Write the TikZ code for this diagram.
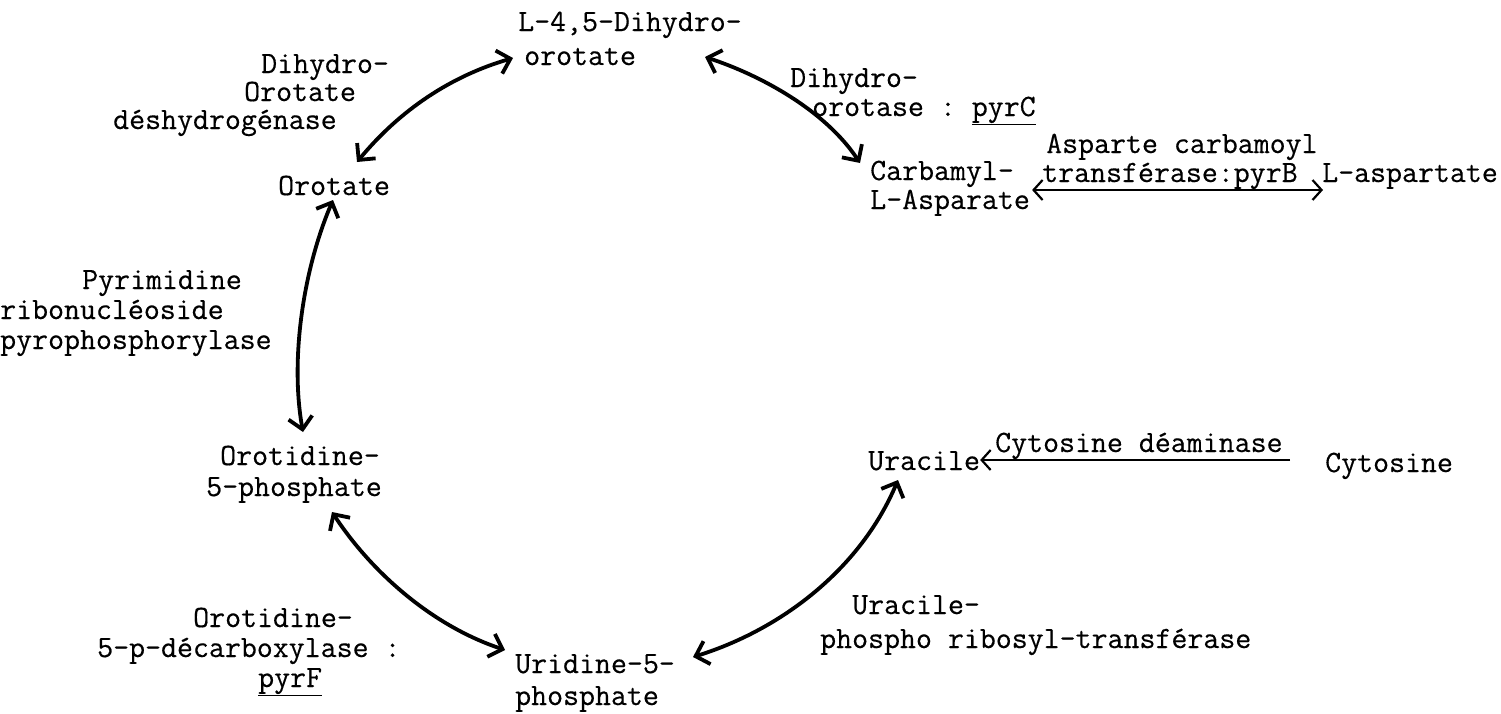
\documentclass[tikz,border=0pt]{standalone}
\usepackage{fontspec}
\setmonofont{Latin Modern Mono}[FakeBold=0.4]
\usetikzlibrary{arrows.meta}
\tikzset{
  ctip/.tip={Straight Barb[length=12pt,width=24pt]},
  rtip/.tip={Straight Barb[length=9pt,width=20pt]}
}
\begin{document}
\begin{tikzpicture}[x=1pt,y=-1pt,
  lbl/.style={anchor=base west, inner sep=0pt,
    font=\ttfamily\fontsize{31}{36}\selectfont},
  cyc/.style={line width=3.8pt, line cap=round, ctip-ctip},
  rxn/.style={line width=2.2pt}]
\fill[white] (0,0) rectangle (1501,713);
\useasboundingbox (0,0) rectangle (1501,713);

% metabolites and enzymes
\node[lbl] (dho1) at (518,31) {L-4,5-Dihydro-};
\node[lbl] (dho2) at (524,65) {orotate};
\node[lbl] (ldh1) at (261,73) {Dihydro-};
\node[lbl] (ldh2) at (244,101) {Orotate};
\node[lbl] (ldh3) at (113,129) {déshydrogénase};
\node[lbl] (oro) at (278,195) {Orotate};
\node[lbl] (rdh1) at (790,87) {Dihydro-};
\node[lbl] (rdh2) at (812,116) {orotase : \underline{pyrC}};
\node[lbl] (ca1) at (870,180) {Carbamyl-};
\node[lbl] (ca2) at (870,209) {L-Asparate};
\node[lbl] (atc1) at (1046,153) {Asparte carbamoyl};
\node[lbl] (atc2) at (1042,182) {transférase:pyrB};
\node[lbl] (asp) at (1322,182) {L-aspartate};
\node[lbl] (pr1) at (82,289) {Pyrimidine};
\node[lbl] (pr2) at (0,319) {ribonucléoside};
\node[lbl] (pr3) at (0,349) {pyrophosphorylase};
\node[lbl] (od1) at (220,465) {Orotidine-};
\node[lbl] (od2) at (206,496) {5-phosphate};
\node[lbl] (ura) at (868,470) {Uracile};
\node[lbl] (cda) at (995,452) {Cytosine déaminase};
\node[lbl] (cyt) at (1325,472) {Cytosine};
\node[lbl] (up1) at (852,614) {Uracile-};
\node[lbl] (up2) at (820,648) {phospho ribosyl-transférase};
\node[lbl] (odc1) at (193,627) {Orotidine-};
\node[lbl] (odc2) at (97,657) {5-p-décarboxylase :};
\node[lbl] (odc3) at (258,687) {\underline{pyrF}};
\node[lbl] (ud1) at (515,673) {Uridine-5-};
\node[lbl] (ud2) at (515,705) {phosphate};

% reversible steps of the cycle
\draw[cyc] ([shift={(79,-33)}]oro.base west)
  .. controls +(43,-52) and +(-62,18) .. ([shift={(-11,-7)}]dho2.base west);
\draw[cyc] ([shift={(181,-8)}]dho2.base west)
  .. controls +(55,18) and +(-35,-53) .. ([shift={(-10,-17)}]ca1.base west);
\draw[cyc] ([shift={(55,5)}]oro.base west)
  .. controls +(-30,70) and +(-13,-72) .. ([shift={(83,-33)}]od1.base west);
\draw[cyc] ([shift={(126,16)}]od2.base west)
  .. controls +(38,58) and +(-75,-25) .. ([shift={(-10,-23)}]ud1.base west);
\draw[cyc] ([shift={(178,-16)}]ud1.base west)
  .. controls +(87,-27) and +(-38,90) .. ([shift={(30,10)}]ura.base west);

% side reactions
\draw[rxn, rtip-rtip] ([shift={(18,10)}]ca1.base east) -- ([shift={(1,8)}]asp.base west);
\draw[rxn, -rtip] ([shift={(-35,-12)}]cyt.base west) -- ([shift={(0,-10)}]ura.base east);
\end{tikzpicture}
\end{document}
